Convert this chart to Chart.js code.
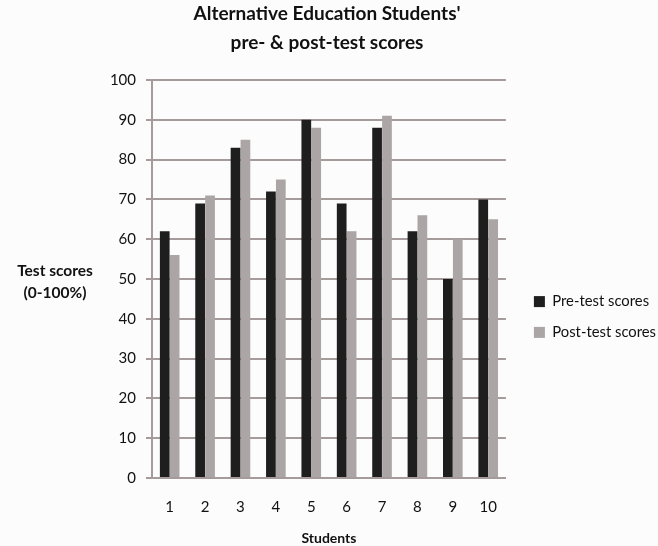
<!DOCTYPE html>
<html>
<head>
<meta charset="utf-8">
<script src="https://cdn.jsdelivr.net/npm/chart.js@4"></script>
<style>
  html, body { margin: 0; padding: 0; background: #fcfcfc; }
  #wrap { width: 658px; height: 546px; }
</style>
</head>
<body>
<div id="wrap"><canvas id="scoresChart" width="658" height="546"></canvas></div>
<script>
// dữ liệu
const students = ["1", "2", "3", "4", "5", "6", "7", "8", "9", "10"];
const preScores = [62, 69, 83, 72, 90, 69, 88, 62, 50, 70];
const postScores = [56, 71, 85, 75, 88, 62, 91, 66, 60, 65];
const titleLines = ["Alternative Education Students'", "pre- & post-test scores"];
const yTitleLines = ["Test scores", "(0-100%)"];

const FONT = "Lato";
const gridColor = "#a59b9b";

// tiêu đề trục Y nằm ngang (Chart.js chỉ vẽ xoay)
const yTitlePlugin = {
  id: "yTitle",
  afterLayout(chart) {
    // đẩy chú thích sang phải một chút
    chart.legend.left += 12;
    chart.legend.right += 12;
  },
  afterDraw(chart) {
    const ctx = chart.ctx;
    ctx.save();
    ctx.font = "bold 15.5px " + FONT;
    ctx.fillStyle = "#111";
    ctx.textAlign = "center";
    ctx.textBaseline = "middle";
    yTitleLines.forEach((t, i) => ctx.fillText(t, 55, 271 + i * 22));
    ctx.restore();
  },
};

const ctx = document.getElementById("scoresChart").getContext("2d");
new Chart(ctx, {
  type: "bar",
  data: {
    labels: students,
    datasets: [
      {
        label: "Pre-test scores",
        data: preScores,
        backgroundColor: "#1e1e1e",
        categoryPercentage: 0.56,
        barPercentage: 0.98,
      },
      {
        label: "Post-test scores",
        data: postScores,
        backgroundColor: "#aba5a5",
        categoryPercentage: 0.56,
        barPercentage: 0.98,
      },
    ],
  },
  options: {
    responsive: false,
    animation: false,
    layout: { padding: { top: 0, right: 4, left: 0, bottom: 1 } },
    plugins: {
      title: {
        display: true,
        text: titleLines,
        color: "#111",
        font: { family: FONT, size: 19, weight: "bold", lineHeight: 1.5 },
        padding: { top: 0, bottom: 23 },
      },
      legend: {
        position: "right",
        title: {
          display: true,
          text: " ",
          font: { family: FONT, size: 10, lineHeight: 1 },
          padding: { top: 0, bottom: 79 },
        },
        labels: {
          color: "#111",
          font: { family: FONT, size: 14.8 },
          boxWidth: 11,
          boxHeight: 11,
          padding: 16,
        },
      },
      tooltip: { enabled: false },
    },
    scales: {
      x: {
        grid: { display: false },
        border: { color: gridColor, width: 2 },
        ticks: { color: "#111", font: { family: FONT, size: 15 }, padding: 12 },
        title: {
          display: true,
          text: "Students",
          color: "#111",
          font: { family: FONT, size: 14, weight: "bold", lineHeight: 1 },
          padding: { top: 3, bottom: 0 },
        },
      },
      y: {
        min: 0,
        max: 100,
        ticks: { stepSize: 10, color: "#111", font: { family: FONT, size: 15 }, padding: 10 },
        grid: { color: gridColor, lineWidth: 2, tickLength: 6 },
        border: { color: gridColor, width: 2 },
        afterFit(scale) { scale.width = 152; },
      },
    },
  },
  plugins: [yTitlePlugin],
});
</script>
</body>
</html>
